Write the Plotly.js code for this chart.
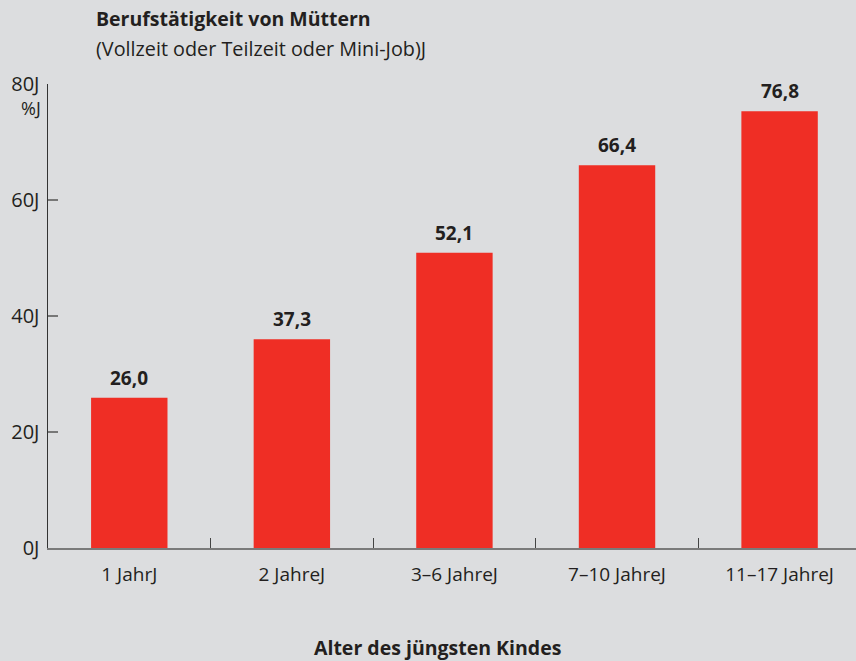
<!DOCTYPE html>
<html>
<head>
<meta charset="utf-8">
<script src="https://cdn.plot.ly/plotly-3.0.1.min.js"></script>
<style>html,body{margin:0;padding:0;background:#dcdddf;}#chart{width:856px;height:661px;}</style>
</head>
<body>
<div id="chart"></div>
<script>
const categories = ["1 JahrJ", "2 JahreJ", "3–6 JahreJ", "7–10 JahreJ", "11–17 JahreJ"];
const barValues = [25.9, 36.0, 50.9, 66.0, 75.3];
const valueLabels = ["26,0", "37,3", "52,1", "66,4", "76,8"];
const yTickVals = [0, 20, 40, 60, 80];
const yTickText = ["0J", "20J", "40J", "60J", "80J"];

const FONT = "Open Sans, Noto Sans, sans-serif";
const TXT = "#231f20";

const trace = {
  type: "bar",
  x: categories,
  y: barValues,
  marker: {color: "#ef2e25", line: {width: 0}},
  hoverinfo: "none"
};

const annotations = valueLabels.map((t, i) => ({
  x: categories[i], y: barValues[i], xref: "x", yref: "y",
  text: "<b>" + t + "</b>", showarrow: false, yanchor: "bottom", yshift: 5,
  font: {family: FONT, size: 19, color: TXT}
}));
annotations.push(
  {xref: "paper", yref: "paper", x: (94-48)/808, y: 1, xanchor: "left", yanchor: "bottom", yshift: 50,
   text: "<b>Berufstätigkeit von Müttern</b>", showarrow: false, font: {family: FONT, size: 19.5, color: TXT}},
  {xref: "paper", yref: "paper", x: (94-48)/808, y: 1, xanchor: "left", yanchor: "bottom", yshift: 20,
   text: "(Vollzeit oder Teilzeit oder Mini-Job)J", showarrow: false, font: {family: FONT, size: 19.8, color: TXT}},
  {xref: "paper", yref: "y", x: 0, y: 80, xanchor: "right", yanchor: "middle", xshift: -5, yshift: -24,
   text: "%J", showarrow: false, font: {family: FONT, size: 18, color: TXT}},
  {xref: "paper", yref: "paper", x: (437-48)/808, y: 0, xanchor: "center", yanchor: "middle", yshift: -99,
   text: "<b>Alter des jüngsten Kindes</b>", showarrow: false, font: {family: FONT, size: 19.5, color: TXT}}
);

const layout = {
  width: 856, height: 661,
  margin: {l: 48, r: 0, t: 84, b: 113},
  paper_bgcolor: "#dcdddf", plot_bgcolor: "#dcdddf",
  bargap: 0.53,
  showlegend: false,
  font: {family: FONT, size: 19, color: TXT},
  xaxis: {
    type: "category", range: [-0.5, 4.47], fixedrange: true,
    showline: true, linecolor: "#7a7a7a", linewidth: 2,
    ticks: "inside", tickson: "boundaries", ticklen: 10, tickcolor: "#444", tickwidth: 1.2,
    showgrid: false, zeroline: false,
    tickfont: {family: FONT, size: 19, color: TXT},
    ticklabelstandoff: 8
  },
  yaxis: {
    range: [0, 80], fixedrange: true,
    showline: true, linecolor: "#333", linewidth: 1.5,
    ticks: "inside", ticklen: 10, tickcolor: "#777", tickwidth: 1.5,
    tickvals: yTickVals, ticktext: yTickText,
    showgrid: false, zeroline: false,
    tickfont: {family: FONT, size: 20, color: TXT},
    ticklabelstandoff: 3
  },
  annotations: annotations
};

Plotly.newPlot("chart", [trace], layout, {displayModeBar: false, staticPlot: true});
</script>
</body>
</html>
